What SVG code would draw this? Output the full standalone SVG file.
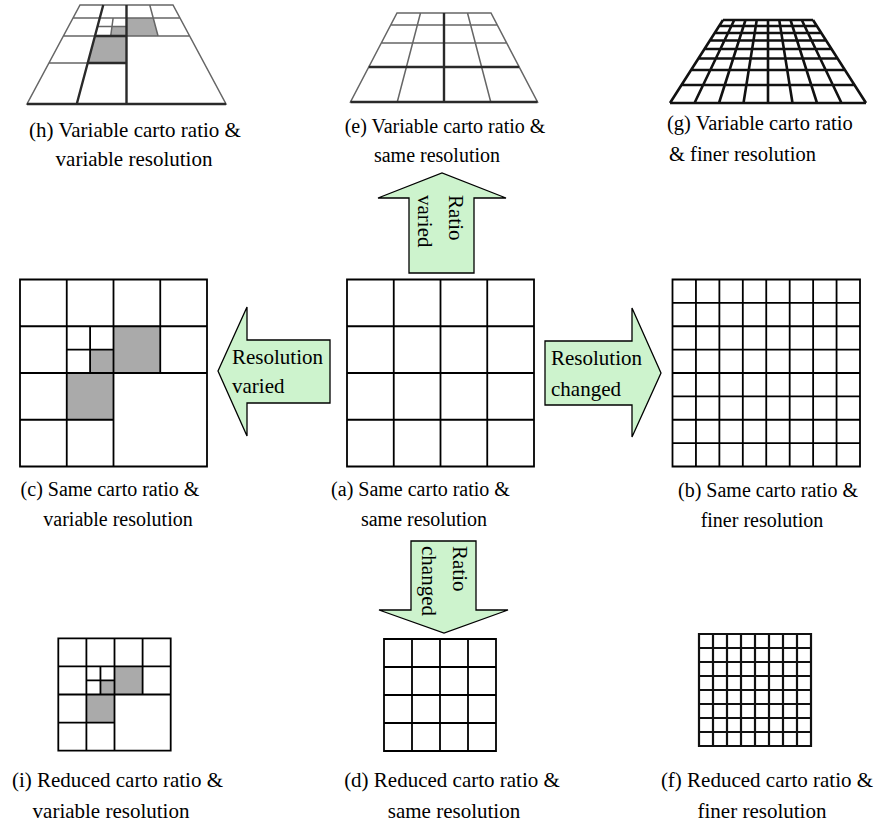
<svg xmlns="http://www.w3.org/2000/svg" width="875" height="827" viewBox="0 0 875 827">
<style>
text{font-family:"Liberation Serif","Times New Roman",serif;fill:#000;}
.cap{font-size:20px;}
.cap21{font-size:21px;}
.lab{font-size:21px;}
.g{fill:none;stroke:#000;stroke-width:1.8;stroke-linecap:square;}
.gf{fill:none;stroke:#111;stroke-width:2.2;}
.gray{fill:#aaaaaa;stroke:none;}
.ph{fill:none;stroke:#666;stroke-width:1.5;}
.phk{fill:none;stroke:#2a2a2a;stroke-width:2.4;}
.pg{fill:none;stroke:#111;stroke-width:2.6;}
.arr{fill:#cdf3cd;stroke:#000;stroke-width:1.3;stroke-linejoin:miter;}
</style>

<!-- (h) perspective variable -->
<g id="panel-h">
  <polygon class="gray" fill="#a3a3a3" points="112,26.5 126.5,26.5 126.5,36 110.7,36"/>
  <polygon class="gray" fill="#a3a3a3" points="126.5,18 153.2,18 158.05,36 126.5,36"/>
  <polygon class="gray" fill="#a3a3a3" points="94.95,36 126.5,36 126.5,63 87.7,63"/>
  <path class="ph" d="M80,5 L173,5 L226,104 L27,104 Z M73.05,18 H179.95 M63.4,36 H189.6 M48.95,63 H126.5 M149.75,5 L158.05,36 M113.14,18 L110.7,36 M97.5,26.5 H126.5"/>
  <path class="phk" d="M126.5,5 V104 M103.25,5 L76.75,104 M27,104 H226 M94.95,36 H126.5 M87.7,63 H126.5"/>
  <text class="cap21" x="135" y="137" text-anchor="middle">(h) Variable carto ratio &amp;</text>
  <text class="cap21" x="134" y="166" text-anchor="middle">variable resolution</text>
</g>

<!-- (e) perspective same -->
<g id="panel-e">
  <path class="ph" d="M397,13 L491,13 L537.5,102 L350.5,102 Z M390.75,25 H497.25 M381.35,43 H506.65 M420.5,13 L397.25,102 M467.5,13 L490.75,102"/>
  <path class="phk" d="M444,13 V102 M368.8,67 H519.2 M350.5,102 H537.5"/>
  <text class="cap" x="445" y="133" text-anchor="middle">(e) Variable carto ratio &amp;</text>
  <text class="cap" x="437" y="162" text-anchor="middle">same resolution</text>
</g>

<!-- (g) perspective finer -->
<g id="panel-g">
  <path class="pg" d="M723,20 H813 M719.15,26 H816.85 M714.7,33 H821.3 M709.9,40.5 H826.1 M704.5,49 H831.5 M698.4,58.5 H837.6 M691.05,70 H844.95 M681.5,85 H854.5 M670,103 H866
  M723,20 L670,103 M734.25,20 L694.5,103 M745.5,20 L719,103 M756.75,20 L743.5,103 M768,20 L768,103 M779.25,20 L792.5,103 M790.5,20 L817,103 M801.75,20 L841.5,103 M813,20 L866,103"/>
  <text class="cap" x="667" y="130" style="font-size:20.5px">(g) Variable carto ratio</text>
  <text class="cap" x="669" y="161" style="font-size:20.5px">&amp; finer resolution</text>
</g>

<!-- (c) same ratio variable resolution -->
<g id="panel-c">
  <rect class="gray" x="90.1" y="349.6" width="23.4" height="23.4"/>
  <rect class="gray" x="113.5" y="326.25" width="46.75" height="46.75"/>
  <rect class="gray" x="66.75" y="373" width="46.75" height="46.75"/>
  <path class="g" d="M20,279.5 H207 V466.5 H20 Z M20,326.25 H207 M20,373 H207 M20,419.75 H113.5 M66.75,279.5 V466.5 M113.5,279.5 V466.5 M160.25,279.5 V373 M90.1,326.25 V373 M66.75,349.6 H113.5"/>
  <text class="cap" x="110" y="496" text-anchor="middle">(c) Same carto ratio &amp;</text>
  <text class="cap" x="118" y="526" text-anchor="middle">variable resolution</text>
</g>

<!-- (a) same ratio same resolution -->
<g id="panel-a">
  <path class="g" d="M347,279.5 H534 V466.5 H347 Z M347,326.25 H534 M347,373 H534 M347,419.75 H534 M393.75,279.5 V466.5 M440.5,279.5 V466.5 M487.25,279.5 V466.5"/>
  <text class="cap" x="420.5" y="496" text-anchor="middle">(a) Same carto ratio &amp;</text>
  <text class="cap" x="424" y="526" text-anchor="middle">same resolution</text>
</g>

<!-- (b) same ratio finer resolution -->
<g id="panel-b">
  <path class="g" d="M672.5,279.5 H860 V466.5 H672.5 Z
  M672.5,302.88 H860 M672.5,326.25 H860 M672.5,349.63 H860 M672.5,373 H860 M672.5,396.38 H860 M672.5,419.75 H860 M672.5,443.13 H860
  M695.94,279.5 V466.5 M719.38,279.5 V466.5 M742.81,279.5 V466.5 M766.25,279.5 V466.5 M789.69,279.5 V466.5 M813.13,279.5 V466.5 M836.56,279.5 V466.5"/>
  <text class="cap" x="768" y="497" text-anchor="middle">(b) Same carto ratio &amp;</text>
  <text class="cap" x="762" y="527" text-anchor="middle">finer resolution</text>
</g>

<!-- (i) reduced variable -->
<g id="panel-i">
  <rect class="gray" x="100.45" y="680.45" width="14.05" height="14.05"/>
  <rect class="gray" x="114.5" y="666.4" width="28.1" height="28.1"/>
  <rect class="gray" x="86.4" y="694.5" width="28.1" height="28.1"/>
  <path class="g" d="M58.3,638.3 H170.7 V750.7 H58.3 Z M58.3,666.4 H170.7 M58.3,694.5 H170.7 M58.3,722.6 H114.5 M86.4,638.3 V750.7 M114.5,638.3 V750.7 M142.6,638.3 V694.5 M100.45,666.4 V694.5 M86.4,680.45 H114.5"/>
  <text class="cap21" x="117.5" y="787" text-anchor="middle">(i) Reduced carto ratio &amp;</text>
  <text class="cap21" x="111" y="818" text-anchor="middle">variable resolution</text>
</g>

<!-- (d) reduced same -->
<g id="panel-d">
  <path class="g" d="M384,639 H496 V751 H384 Z M384,667 H496 M384,695 H496 M384,723 H496 M412,639 V751 M440,639 V751 M468,639 V751"/>
  <text class="cap21" x="452" y="787" text-anchor="middle">(d) Reduced carto ratio &amp;</text>
  <text class="cap21" x="454" y="818" text-anchor="middle">same resolution</text>
</g>

<!-- (f) reduced finer -->
<g id="panel-f">
  <path class="gf" d="M699,634 H811 V746 H699 Z M699,648 H811 M699,662 H811 M699,676 H811 M699,690 H811 M699,704 H811 M699,718 H811 M699,732 H811
  M713,634 V746 M727,634 V746 M741,634 V746 M755,634 V746 M769,634 V746 M783,634 V746 M797,634 V746"/>
  <text class="cap21" x="767" y="787" text-anchor="middle">(f) Reduced carto ratio &amp;</text>
  <text class="cap21" x="762" y="818" text-anchor="middle">finer resolution</text>
</g>

<!-- block arrows -->
<g id="connectors">
  <g id="arrow-up">
    <polygon class="arr" points="409,273 409,198 378,198 442,173 506,198 474,198 474,273"/>
    <text class="lab" transform="translate(449,195) rotate(90)">Ratio</text>
    <text class="lab" transform="translate(418,195) rotate(90)">varied</text>
  </g>
  <g id="arrow-left">
    <polygon class="arr" points="218,371 247,307 247,340 330,340 330,403 247,403 247,436"/>
    <text class="lab" x="232" y="364">Resolution</text>
    <text class="lab" x="232" y="393">varied</text>
  </g>
  <g id="arrow-right">
    <polygon class="arr" points="545,341 632,341 632,308 661,373 632,437 632,405 545,405"/>
    <text class="lab" x="551" y="365">Resolution</text>
    <text class="lab" x="551" y="396">changed</text>
  </g>
  <g id="arrow-down">
    <polygon class="arr" points="411,541 476,541 476,610 508,610 444,633 379,610 411,610"/>
    <text class="lab" transform="translate(453,546) rotate(90)">Ratio</text>
    <text class="lab" transform="translate(422,546) rotate(90)">changed</text>
  </g>
</g>
</svg>
